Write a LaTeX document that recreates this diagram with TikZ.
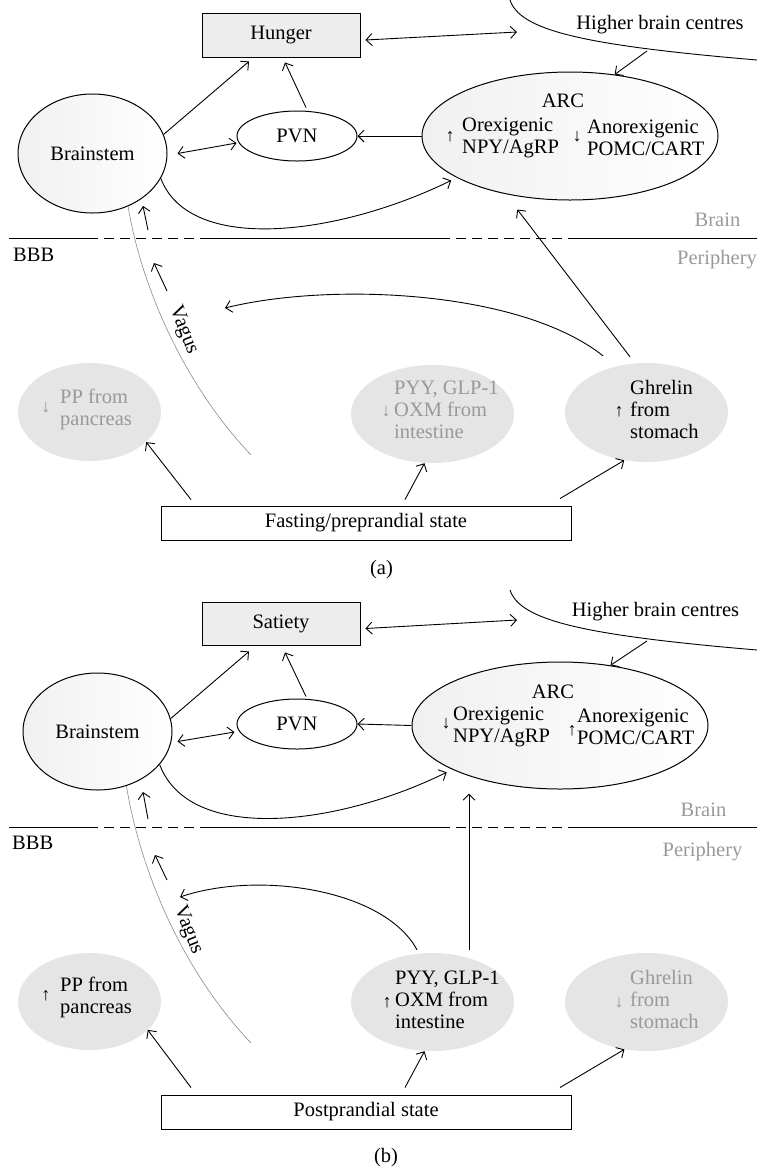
\documentclass[tikz,border=0pt]{standalone}
\usepackage{fontspec}
\setmainfont{Liberation Serif}
\usetikzlibrary{shapes.geometric,arrows.meta,calc}
\definecolor{hfill}{HTML}{E5E5E5}
\definecolor{gtext}{HTML}{999999}
\definecolor{boxfill}{HTML}{EDEDED}
\definecolor{shadeg}{HTML}{F0F0F0}
\definecolor{vagusc}{HTML}{8A8A8A}
\newcommand\myfs{\fontsize{20.5}{22}\selectfont}
\newcommand\myarfs{\fontsize{18}{18}\selectfont}
\begin{document}
\begin{tikzpicture}[x=1pt,y=-1pt,
  txt/.style={font=\myfs, inner sep=0pt},
  arw/.style={font=\myarfs, inner sep=0pt},
  conn/.style={line width=0.9pt, -{Straight Barb[length=6pt,width=12pt]}},
  dconn/.style={line width=0.9pt, {Straight Barb[length=6pt,width=12pt]}-{Straight Barb[length=6pt,width=12pt]}},
  statebox/.style={draw, line width=0.9pt, rectangle, minimum width=410pt, minimum height=34pt, font=\myfs, inner sep=0pt},
  feelbox/.style={draw, line width=0.9pt, fill=boxfill, minimum width=158pt, minimum height=44pt, font=\myfs, inner sep=0pt},
  oval/.style={ellipse, draw, line width=1pt, inner sep=0pt},
  shoval/.style={oval, left color=shadeg, right color=white},
  horm/.style={ellipse, fill=hfill, inner sep=0pt, minimum width=163pt, minimum height=98pt},
  bbbline/.style={line width=0.9pt},
  bbbdash/.style={line width=0.9pt, dash pattern=on 10pt off 6pt},
  regtxt/.style={font=\myfs, text=gtext, inner sep=0pt},
  vagusline/.style={draw=vagusc, line width=0.6pt},
  curveline/.style={line width=0.9pt},
]
\useasboundingbox (0,0) rectangle (757,1168);

% ================= Panel (a) =================
\node[feelbox] (hunger) at (281,35) {Hunger};
\node[shoval, minimum width=149pt, minimum height=119pt, font=\myfs] (bs) at (92.5,153.5) {Brainstem};
\node[oval, minimum width=120pt, minimum height=50pt, font=\myfs] (pvn) at (297,136) {PVN};
\node[shoval, minimum width=296pt, minimum height=128pt] (arc) at (570,136) {};
\node[txt] (arcl) at (563,101) {ARC};
\node[txt, anchor=west, align=left] (orex) at (462,138) {Orexigenic\\NPY/AgRP};
\node[arw] (orexar) at (450,137) {↑};
\node[txt, anchor=west, align=left] (anor) at (587,138) {Anorexigenic\\POMC/CART};
\node[arw] (anorar) at (577,137) {↓};

\draw[curveline] (510,0) .. controls (520,30) and (580,45) .. (757,60);
\coordinate (hbcA) at (647,51);
\coordinate (hbcB) at (517,32);
\node[txt] (hbc) at (660,25) {Higher brain centres};

\draw[conn] (bs.15) -- ([xshift=-32pt,yshift=-4pt]hunger.south);
\draw[conn] ([xshift=9pt,yshift=3pt]pvn.north) -- ([xshift=4pt,yshift=-5pt]hunger.south);
\draw[dconn] ([xshift=10pt]bs.east) -- ([yshift=-7pt]pvn.west);
\draw[conn] (arc.west) -- (pvn.east);
\draw[dconn] ([xshift=5pt,yshift=-5pt]hunger.east) -- (hbcB);
\draw[conn] (hbcA) -- (arc.54);
\draw[conn] (bs.-20) .. controls (190,255) and (340,235) .. ([xshift=-5pt,yshift=-3pt]arc.200);

\coordinate (m1s) at (148,230); \coordinate (m1e) at (143,206);
\draw[conn] (m1s) -- (m1e);

% BBB line (a)
\draw[bbbline] (9,238) -- (88,238);
\draw[bbbdash] (88,238) -- (203,238);
\draw[bbbline] (203,238) -- (440,238);
\draw[bbbdash] (440,238) -- (577,238);
\draw[bbbline] (577,238) -- (757,238);
\node[txt, anchor=west] (bbbA) at (13,255) {BBB};
\node[regtxt] (brainA) at (717.5,220) {Brain};
\node[regtxt] (periA) at (717,260) {Periphery};

% vagus (a)
\coordinate (vagEndA) at (251,455);
\draw[vagusline] (bs.-56) .. controls (140,280) and (180,380) .. (vagEndA);
\node[txt, rotate=-68.5] (vagA) at (183.5,330) {Vagus};
\coordinate (m2s) at (167,291); \coordinate (m2e) at (154,263);
\draw[conn] (m2s) -- (m2e);

% hormones (a)
\node[horm, minimum width=143pt, minimum height=98pt] (pp) at (89.5,412) {};
\node[arw, text=gtext] (ppar) at (46,408) {↓};
\node[txt, text=gtext, anchor=west, align=left] (ppt) at (60,409) {PP from\\pancreas};
\node[horm] (pyy) at (432.5,414) {};
\node[arw, text=gtext] (pyyar) at (386,412) {↓};
\node[txt, text=gtext, anchor=west, align=left] (pyyt) at (394,410) {PYY, GLP-1\\OXM from\\intestine};
\node[horm, minimum height=99pt] (ghr) at (646.5,412.5) {};
\node[arw] (ghrar) at (619,412) {↑};
\node[txt, anchor=west, align=left] (ghrt) at (630,409) {Ghrelin\\from\\stomach};

\coordinate (vagTipA) at (225,308);
\draw[conn] ([xshift=-43.5pt,yshift=7pt]ghr.north) .. controls (520,290) and (330,282) .. (vagTipA);
\draw[conn] ([xshift=-16.5pt,yshift=6pt]ghr.north) -- ([xshift=-8pt,yshift=-12pt]arc.234);

\node[statebox] (fast) at (366,523) {Fasting/preprandial state};
\draw[conn] ([xshift=-175pt,yshift=6pt]fast.north) -- (pp.-28);
\draw[conn] ([xshift=39pt,yshift=6pt]fast.north) -- ([xshift=-8pt]pyy.south);
\draw[conn] ([xshift=194pt,yshift=7pt]fast.north) -- (ghr.-115);
\node[txt] (labA) at (381.5,570) {(a)};

% ================= Panel (b) =================
\node[feelbox, minimum height=43pt] (sat) at (281,623.5) {Satiety};
\node[shoval, minimum width=149pt, minimum height=117pt, font=\myfs] (bs2) at (97.5,731.5) {Brainstem};
\node[oval, minimum width=120pt, minimum height=50pt, font=\myfs] (pvn2) at (297,724) {PVN};
\node[shoval, minimum width=296pt, minimum height=127pt] (arc2) at (560,725.5) {};
\node[txt] (arcl2) at (553,692) {ARC};
\node[txt, anchor=west, align=left] (orex2) at (453,727) {Orexigenic\\NPY/AgRP};
\node[arw] (orexar2) at (446,724) {↓};
\node[txt, anchor=west, align=left] (anor2) at (577,727) {Anorexigenic\\POMC/CART};
\node[arw] (anorar2) at (572,731) {↑};

\draw[curveline] (510,590) .. controls (520,620) and (580,635) .. (757,650);
\coordinate (hbcA2) at (647,641);
\coordinate (hbcB2) at (517,620);
\node[txt] (hbc2) at (655.5,612) {Higher brain centres};

\draw[conn] (bs2.10) -- ([xshift=-32pt,yshift=-6pt]sat.south);
\draw[conn] ([xshift=9pt,yshift=2pt]pvn2.north) -- ([xshift=4pt,yshift=-7pt]sat.south);
\draw[dconn] ([xshift=5pt,yshift=-10pt]bs2.east) -- ([xshift=-2pt,yshift=-8pt]pvn2.west);
\draw[conn] (arc2.west) -- (pvn2.east);
\draw[dconn] ([xshift=5pt,yshift=-5pt]sat.east) -- (hbcB2);
\draw[conn] (hbcA2) -- (arc2.50);
\draw[conn] (bs2.-28) .. controls (190,845) and (340,825) .. ([xshift=-5pt,yshift=-3pt]arc2.202);

\coordinate (m3s) at (148,819); \coordinate (m3e) at (143,792);
\draw[conn] (m3s) -- (m3e);

% BBB line (b)
\draw[bbbline] (9,827) -- (88,827);
\draw[bbbdash] (88,827) -- (203,827);
\draw[bbbline] (203,827) -- (440,827);
\draw[bbbdash] (440,827) -- (577,827);
\draw[bbbline] (577,827) -- (757,827);
\node[txt, anchor=west] (bbbB) at (12,843) {BBB};
\node[regtxt] (brainB) at (703.5,810) {Brain};
\node[regtxt] (periB) at (702.5,852) {Periphery};

% vagus (b)
\coordinate (vagEndB) at (251,1043);
\draw[vagusline] (bs2.-62) .. controls (140,868) and (180,968) .. (vagEndB);
\node[txt, rotate=-68.5] (vagB) at (188,930) {Vagus};
\coordinate (m4s) at (167,880); \coordinate (m4e) at (155,855);
\draw[conn] (m4s) -- (m4e);

% hormones (b)
\node[horm, minimum width=143pt, minimum height=97pt] (pp2) at (89.5,1001.5) {};
\node[arw] (ppar2) at (46,996) {↑};
\node[txt, anchor=west, align=left] (ppt2) at (60,997.5) {PP from\\pancreas};
\node[horm] (pyy2) at (432.5,1002) {};
\node[arw] (pyyar2) at (387,1003) {↑};
\node[txt, anchor=west, align=left] (pyyt2) at (395,1000) {PYY, GLP-1\\OXM from\\intestine};
\node[horm] (ghr2) at (646.5,1002) {};
\node[arw, text=gtext] (ghrar2) at (619,1003) {↓};
\node[txt, text=gtext, anchor=west, align=left] (ghrt2) at (630,999) {Ghrelin\\from\\stomach};

\coordinate (vagTipB) at (180,897);
\draw[conn] ([xshift=-15.5pt,yshift=3pt]pyy2.north) .. controls (385,890) and (260,870) .. (vagTipB);
\draw[conn] ([xshift=36.5pt,yshift=3pt]pyy2.north) -- ([xshift=-91pt,yshift=-4pt]arc2.south);

\node[statebox] (post) at (366,1112) {Postprandial state};
\draw[conn] ([xshift=-175pt,yshift=7pt]post.north) -- (pp2.-26);
\draw[conn] ([xshift=39pt,yshift=7pt]post.north) -- ([xshift=-8pt]pyy2.south);
\draw[conn] ([xshift=194pt,yshift=7pt]post.north) -- (ghr2.-115);
\node[txt] (labB) at (386,1158) {(b)};
\end{tikzpicture}
\end{document}
